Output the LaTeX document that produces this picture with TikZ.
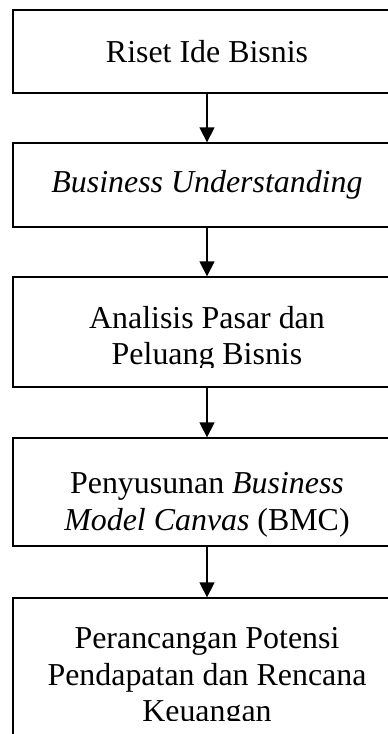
\documentclass[tikz,border=0pt]{standalone}
\usepackage{fontspec}
\setmainfont{Liberation Serif}
\usepackage{tikz}
\usetikzlibrary{arrows.meta}

\tikzset{
    kotak/.style={draw, line width=1.3pt, minimum width=388pt, inner sep=0pt},
    teks/.style={align=center, inner sep=0pt, font=\fontsize{31.9}{36.5}\selectfont},
    panah/.style={line width=1.3pt, -{Triangle[width=15pt,length=15pt]}}
}

\begin{document}
\begin{tikzpicture}[x=1pt, y=-1pt]
        \clip (0,0) rectangle (388,734);
        \node[kotak, minimum height=83pt] (riset) at (207,51.5) {};
        \node[kotak, minimum height=84pt] (bu) at (207,185) {};
        \node[kotak, minimum height=110pt] (pasar) at (207,332) {};
        \node[kotak, minimum height=108pt] (bmc) at (207,492) {};
        \node[kotak, minimum height=200pt] (keuangan) at (207,698) {};
        \node[teks] (risetteks) at (riset) {Riset Ide Bisnis};
        \node[teks] (buteks) at (bu) {\itshape Business Understanding};
        \begin{scope}
            \clip (pasar.north west) rectangle ([yshift=20pt]pasar.south east);
            \node[teks] (pasarteks) at (207,339) {Analisis Pasar dan\\Peluang Bisnis};
        \end{scope}
        \node[teks] (bmcteks) at (207,505) {Penyusunan \textit{Business}\\\textit{Model Canvas} (BMC)};
        \begin{scope}
            \clip (keuangan.north west) rectangle (401,720);
            \node[teks] (keuanganteks) at (207,678) {Perancangan Potensi\\Pendapatan dan Rencana\\Keuangan};
        \end{scope}
        \draw[panah] (riset.south) -- (bu.north);
        \draw[panah] (bu.south) -- (pasar.north);
        \draw[panah] (pasar.south) -- (bmc.north);
        \draw[panah] (bmc.south) -- (keuangan.north);
    \end{tikzpicture}
\end{document}
